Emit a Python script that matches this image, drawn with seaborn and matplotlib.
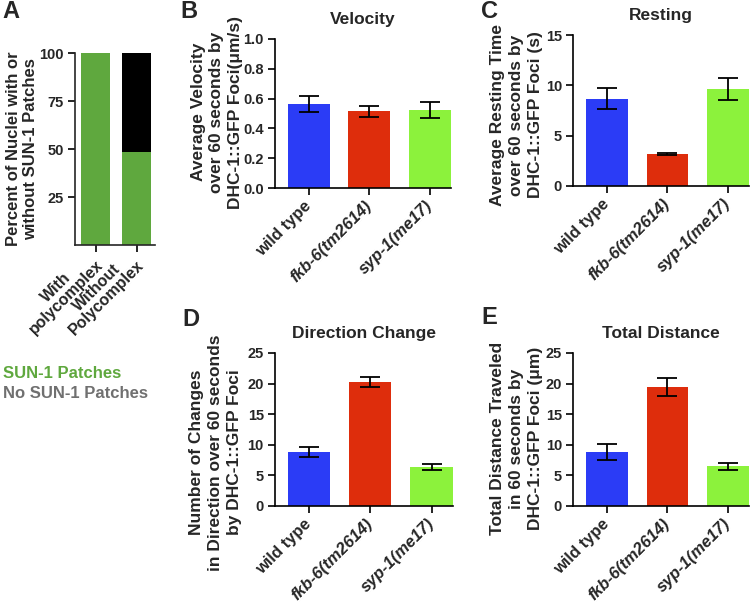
import matplotlib
matplotlib.use('Agg')
import matplotlib.pyplot as plt
import seaborn as sns

sns.set_style('ticks')
plt.rcParams['font.family'] = ['Liberation Sans', 'DejaVu Sans']
plt.rcParams['font.weight'] = 'bold'
plt.rcParams['axes.labelweight'] = 'bold'
plt.rcParams['axes.titleweight'] = 'bold'
plt.rcParams['axes.linewidth'] = 1.2

# panel A data
groups_a = ['With\npolycomplex', 'Without\nPolycomplex']
sun1_patches = [100, 48.5]
no_sun1_patches = [0, 51.5]

# panels B-E data
genotypes = ['wild type', 'fkb-6(tm2614)', 'syp-1(me17)']
velocity = [0.565, 0.515, 0.522]
velocity_err = [0.055, 0.036, 0.055]
resting = [8.65, 3.15, 9.6]
resting_err = [1.05, 0.1, 1.1]
direction = [8.8, 20.2, 6.4]
direction_err = [0.8, 0.8, 0.5]
distance = [8.8, 19.45, 6.5]
distance_err = [1.3, 1.4, 0.6]

bar_colors = ['#2b3cf6', '#de2d0c', '#8cf23c']
green_a = '#5fa83e'

fig = plt.figure(figsize=(7.54, 6.11), dpi=100)


def bar_panel(rect, vals, errs, ylim, yticks, yfmt, title, ylabel, lab_xy):
    ax = fig.add_axes(rect)
    sns.barplot(x=genotypes, y=vals, hue=genotypes, palette=bar_colors, legend=False,
                width=0.69, saturation=1, edgecolor='none', ax=ax)
    ax.errorbar(x=list(range(len(vals))), y=vals, yerr=errs, fmt='none', ecolor='black',
                elinewidth=1.3, capsize=7.5, capthick=1.3, zorder=5)
    ax.set_xlim(-0.56, 2.35)
    ax.set_ylim(*ylim)
    ax.set_yticks(yticks)
    ax.set_yticklabels([yfmt.format(t) for t in yticks], fontsize=10.5, fontweight='bold')
    ax.set_xticks(range(len(genotypes)))
    ax.set_xticklabels(genotypes, rotation=45, ha='right', va='center',
                       rotation_mode='anchor', fontsize=12, fontweight='bold')
    for i, lab in enumerate(ax.get_xticklabels()):
        if i > 0:
            lab.set_style('italic')
    ax.tick_params(axis='both', length=5, width=1.2, color='black', pad=3)
    ax.tick_params(axis='x', pad=6)
    ax.set_title(title, fontsize=12.5, fontweight='bold', pad=11)
    ax.set_ylabel(ylabel, fontsize=12.5, fontweight='bold', linespacing=1.32)
    ax.yaxis.set_label_coords(*lab_xy)
    ax.set_xlabel('')
    sns.despine(ax=ax)
    for s in ['left', 'bottom']:
        ax.spines[s].set_color('black')
    return ax


# Panel A
axa = fig.add_axes([0.0995, 0.599, 0.106, 0.314])
total = [a + b for a, b in zip(sun1_patches, no_sun1_patches)]
sns.barplot(x=groups_a, y=total, color='black', width=0.71, saturation=1,
            edgecolor='none', ax=axa)
sns.barplot(x=groups_a, y=sun1_patches, color=green_a, width=0.71, saturation=1,
            edgecolor='none', ax=axa)
axa.set_xlim(-0.5, 1.45)
axa.set_ylim(0, 100)
axa.set_yticks([25, 50, 75, 100])
axa.set_yticklabels(['25', '50', '75', '100'], fontsize=10.5, fontweight='bold')
axa.set_xticks([0, 1])
axa.set_xticklabels(groups_a, rotation=45, ha='right', va='center', rotation_mode='anchor',
                    fontsize=11.5, fontweight='bold', multialignment='center',
                    linespacing=0.9)
axa.tick_params(axis='both', length=5, width=1.2, color='black', pad=3)
axa.tick_params(axis='x', pad=4)
axa.set_ylabel('Percent of Nuclei with or\nwithout SUN-1 Patches', fontsize=12,
               fontweight='bold', linespacing=1.2)
axa.yaxis.set_label_coords(-0.46, 0.5)
axa.set_xlabel('')
sns.despine(ax=axa)

fig.text(0.004, 1 - 373 / 611, 'SUN-1 Patches', color=green_a, fontsize=12,
         fontweight='bold', va='center')
fig.text(0.004, 1 - 393 / 611, 'No SUN-1 Patches', color='#707070', fontsize=12,
         fontweight='bold', va='center')

bar_panel([0.3647, 0.6923, 0.2334, 0.2439], velocity, velocity_err, (0, 1.0),
          [0.0, 0.2, 0.4, 0.6, 0.8, 1.0], '{:.1f}', 'Velocity',
          'Average Velocity\nover 60 seconds by\nDHC-1::GFP Foci(\u03bcm/s)', (-0.18, 0.51))
bar_panel([0.760, 0.6956, 0.2334, 0.2471], resting, resting_err, (0, 15),
          [0, 5, 10, 15], '{}', 'Resting',
          'Average Resting Time\nover 60 seconds by\nDHC-1::GFP Foci (s)', (-0.17, 0.47))
bar_panel([0.3647, 0.1719, 0.236, 0.2504], direction, direction_err, (0, 25),
          [0, 5, 10, 15, 20, 25], '{}', 'Direction Change',
          'Number of Changes\nin Direction over 60 seconds\nby DHC-1::GFP Foci', (-0.185, 0.35))
bar_panel([0.760, 0.1719, 0.2334, 0.2504], distance, distance_err, (0, 25),
          [0, 5, 10, 15, 20, 25], '{}', 'Total Distance',
          'Total Distance Traveled\nin 60 seconds by\nDHC-1::GFP Foci (\u03bcm)', (-0.17, 0.44))

# panel letters
for letter, x, y in [('A', 2, 11), ('B', 180, 11), ('C', 481, 11),
                     ('D', 182, 320), ('E', 481, 318)]:
    fig.text(x / 754, 1 - y / 611, letter, fontsize=17, fontweight='bold', va='center')

fig.savefig('out.png', dpi=100)
